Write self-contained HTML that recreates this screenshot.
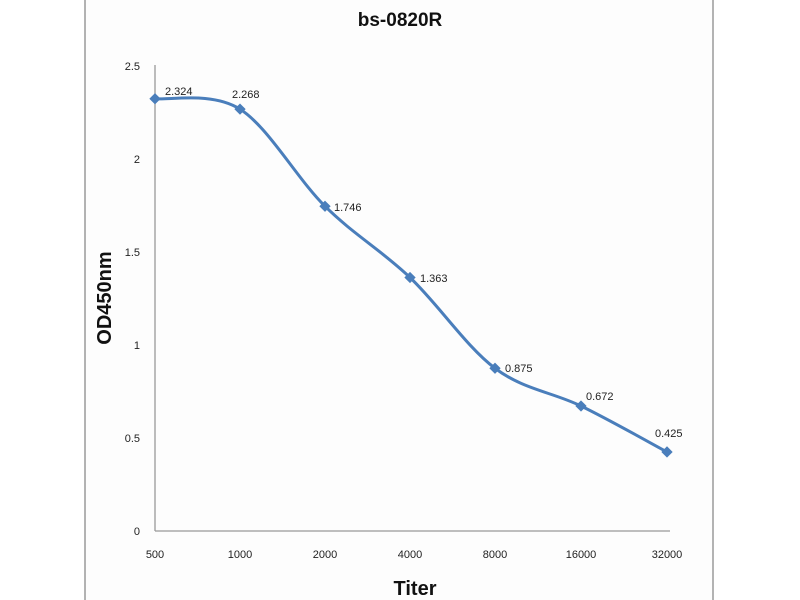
<!DOCTYPE html>
<html><head><meta charset="utf-8"><style>
body{margin:0;background:#fff;}
svg{display:block;font-family:"Liberation Sans",sans-serif;}
</style></head><body>
<svg width="800" height="600" viewBox="0 0 800 600">
<rect x="0" y="0" width="800" height="600" fill="#fff"/>
<rect x="85" y="-2" width="628" height="610" fill="#fdfdfd" stroke="#9a9a9a" stroke-width="1.5"/>
<text x="400" y="26" text-anchor="middle" font-size="19" font-weight="bold" fill="#111">bs-0820R</text>
<line x1="155" y1="65" x2="155" y2="531" stroke="#999" stroke-width="1.3"/>
<line x1="155" y1="531" x2="670" y2="531" stroke="#999" stroke-width="1.3"/>
<g font-size="11" fill="#222" text-anchor="end">
<text x="140" y="535">0</text><text x="140" y="442">0.5</text><text x="140" y="349">1</text>
<text x="140" y="256">1.5</text><text x="140" y="163">2</text><text x="140" y="70">2.5</text>
</g>
<g font-size="11" fill="#222" text-anchor="middle">
<text x="155" y="558">500</text><text x="240" y="558">1000</text><text x="325" y="558">2000</text>
<text x="410" y="558">4000</text><text x="495" y="558">8000</text><text x="581" y="558">16000</text><text x="667" y="558">32000</text>
</g>
<text x="415" y="595" text-anchor="middle" font-size="20" font-weight="bold" fill="#111">Titer</text>
<text transform="translate(111,298) rotate(-90)" text-anchor="middle" font-size="20" font-weight="bold" fill="#111">OD450nm</text>
<path id="c" fill="none" stroke="#4a7ebb" stroke-width="3" d=""/>
<g id="m" fill="#4a7ebb"></g>
<g font-size="11" fill="#222">
<text x="165" y="95">2.324</text><text x="232" y="98">2.268</text><text x="334" y="211">1.746</text>
<text x="420" y="282">1.363</text><text x="505" y="372">0.875</text><text x="586" y="400">0.672</text><text x="655" y="437">0.425</text>
</g>
</svg>
<script>
var xs=[155,240,325,410,495,581,667],vs=[2.324,2.268,1.746,1.363,0.875,0.672,0.425];
var p=xs.map(function(x,i){return [x,531-vs[i]*186];});
var d="M"+p[0][0]+","+p[0][1];
for(var i=0;i<p.length-1;i++){var a=p[i-1]||p[i],b=p[i],c=p[i+1],e=p[i+2]||c,t=0.5/3*2/1;
var k=1/6;d+=" C"+(b[0]+(c[0]-a[0])*k)+","+(b[1]+(c[1]-a[1])*k)+" "+(c[0]-(e[0]-b[0])*k)+","+(c[1]-(e[1]-b[1])*k)+" "+c[0]+","+c[1];}
document.getElementById("c").setAttribute("d",d);
var g=document.getElementById("m");
p.forEach(function(q){var r=document.createElementNS("http://www.w3.org/2000/svg","rect");
r.setAttribute("x",q[0]-4);r.setAttribute("y",q[1]-4);r.setAttribute("width",8);r.setAttribute("height",8);
r.setAttribute("transform","rotate(45 "+q[0]+" "+q[1]+")");g.appendChild(r);});
</script>
</body></html>
